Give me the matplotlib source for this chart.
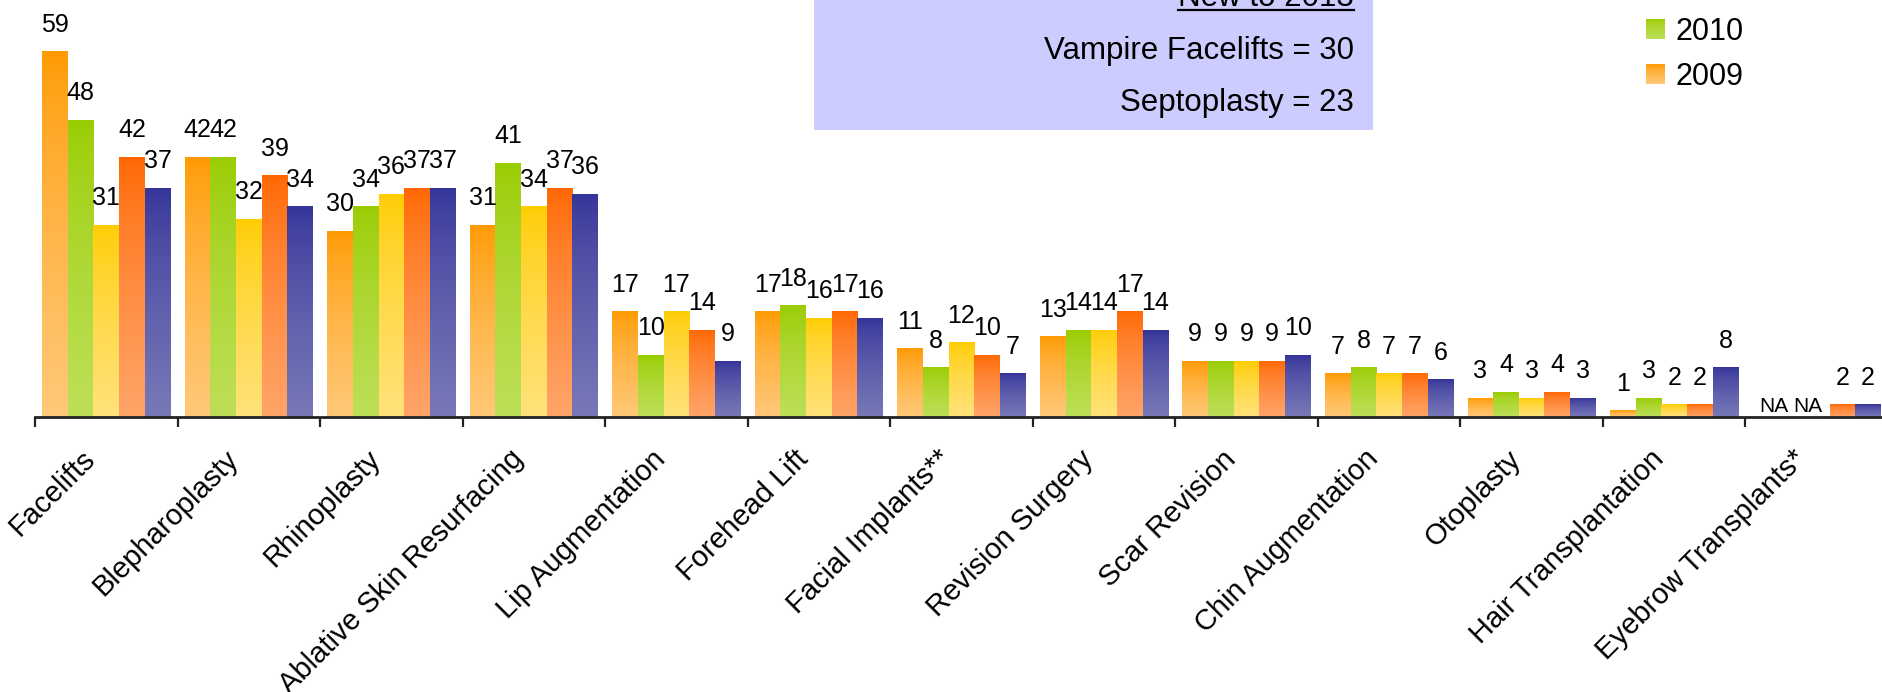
import numpy as np
import matplotlib.pyplot as plt
from matplotlib.colors import LinearSegmentedColormap
from matplotlib.patches import Patch, Rectangle
from matplotlib.lines import Line2D
from matplotlib.transforms import ScaledTranslation, Bbox, TransformedBbox
from matplotlib.legend_handler import HandlerBase
from matplotlib.image import BboxImage

plt.rcParams['font.family'] = ['Liberation Sans', 'DejaVu Sans']

procedures = ['Facelifts', 'Blepharoplasty', 'Rhinoplasty', 'Ablative Skin Resurfacing',
              'Lip Augmentation', 'Forehead Lift', 'Facial Implants**', 'Revision Surgery',
              'Scar Revision', 'Chin Augmentation', 'Otoplasty', 'Hair Transplantation',
              'Eyebrow Transplants*']
years = ['2009', '2010', '2011', '2012', '2013']
v2009 = [59, 42, 30, 31, 17, 17, 11, 13, 9, 7, 3, 1, 'NA']
v2010 = [48, 42, 34, 41, 10, 18, 8, 14, 9, 8, 4, 3, 'NA']
v2011 = [31, 32, 36, 34, 17, 16, 12, 14, 9, 7, 3, 2, None]
v2012 = [42, 39, 37, 37, 14, 17, 10, 17, 9, 7, 4, 2, 2]
v2013 = [37, 34, 37, 36, 9, 16, 7, 14, 10, 6, 3, 8, 2]
series = [v2009, v2010, v2011, v2012, v2013]

new_title = 'New to 2013'
new_items = ['Vampire Facelifts = 30', 'Septoplasty = 23']

# gradient (top, bottom) per series
grads = [('#FF9900', '#FFC878'),
         ('#99CC00', '#BDDF58'),
         ('#FFCC00', '#FFE27A'),
         ('#FF6600', '#FFA468'),
         ('#333399', '#7878B8')]

gradient = (np.linspace(0, 1, 256) ** 0.7).reshape(-1, 1)


class GradHandler(HandlerBase):
    # legend square filled with the same vertical gradient as the bars
    def __init__(self, cmap):
        super().__init__()
        self.cmap = cmap

    def create_artists(self, legend, orig_handle, xdescent, ydescent,
                       width, height, fontsize, trans):
        bbox = TransformedBbox(Bbox.from_bounds(-xdescent, -ydescent, width, height), trans)
        img = BboxImage(bbox, cmap=self.cmap, interpolation='bilinear', origin='upper')
        img.set_data(gradient)
        return [img]


W, H = 1883, 692
fig = plt.figure(figsize=(W / 100, H / 100), dpi=100)
ax = fig.add_axes([35 / W, 1 - 417 / H, 1853 / W, 417 / H])
ax.patch.set_visible(False)

x = np.arange(len(procedures))
width = 0.18
cmaps = []

for k, (year, vals) in enumerate(zip(years, series)):
    top, bottom = grads[k]
    cmap = LinearSegmentedColormap.from_list('g' + year, [top, bottom])
    cmaps.append(cmap)
    heights = [v if isinstance(v, (int, float)) else 0 for v in vals]
    bars = ax.bar(x + (k - 2) * width, heights, width, color='none', linewidth=0)
    for b, v in zip(bars, vals):
        cx = b.get_x() + b.get_width() / 2
        if isinstance(v, str):
            ax.annotate(v, (cx, 0), xytext=(6 + 6 * k, 3.5), textcoords='offset points',
                        ha='center', va='baseline', fontsize=15)
            continue
        if v is None:
            continue
        x0, w, h = b.get_x(), b.get_width(), b.get_height()
        ax.imshow(gradient, extent=[x0, x0 + w, 0, h], aspect='auto', cmap=cmap,
                  origin='upper', zorder=2, interpolation='bilinear')
        ax.annotate(str(v), (cx, h), xytext=(0, 14.4), textcoords='offset points',
                    ha='center', va='baseline', fontsize=18)

ax.set_xlim(-0.5, len(procedures) - 0.5)
ax.set_ylim(0, 67.4)

for s in ['top', 'left', 'right']:
    ax.spines[s].set_visible(False)
ax.spines['bottom'].set_linewidth(2)
ax.spines['bottom'].set_color('#222222')
ax.set_yticks([])

ax.set_xticks(x, procedures, rotation=45, ha='right', va='top',
              rotation_mode='anchor', fontsize=21)
ax.set_xticks(np.arange(-0.5, len(procedures), 1), minor=True)
ax.tick_params(axis='x', which='major', length=0, pad=20)
ax.tick_params(axis='x', which='minor', length=7.5, width=1.6, color='#222222')
shift = ScaledTranslation(-0.25, 0, fig.dpi_scale_trans)
for lbl in ax.get_xticklabels():
    lbl.set_transform(lbl.get_transform() + shift)

# "New to 2013" box
fig.add_artist(Rectangle((814 / W, 1 - 130 / H), (1373 - 814) / W, 140 / H,
                         transform=fig.transFigure, facecolor='#CCCCFF',
                         edgecolor='none', zorder=2.5))
t_new = fig.text(1354 / W, 1 - 6 / H, new_title, ha='right', va='baseline',
                 fontsize=22.5, zorder=4)
for i, item in enumerate(new_items):
    fig.text(1354 / W, 1 - (59 + 52 * i) / H, item, ha='right', va='baseline',
             fontsize=22.5, zorder=4)
fig.canvas.draw()
bb = t_new.get_window_extent()
fig.add_artist(Line2D([bb.x0 / W, bb.x1 / W], [1 - 10 / H, 1 - 10 / H],
                      transform=fig.transFigure, color='black', lw=1.6, zorder=4))

# legend, newest on top (upper entries fall outside the figure)
handles = [Patch(facecolor=g[0], edgecolor='none') for g in grads]
hmap = {hd: GradHandler(cm) for hd, cm in zip(handles, cmaps)}
fig.legend(handles[::-1], years[::-1], loc='lower left', handler_map=hmap,
           bbox_to_anchor=(1646 / W, 1 - 92 / H), frameon=False, fontsize=22,
           handlelength=0.62, handleheight=0.62, handletextpad=0.33,
           labelspacing=0.5, borderpad=0, borderaxespad=0)

fig.savefig('out.png', dpi=100)
